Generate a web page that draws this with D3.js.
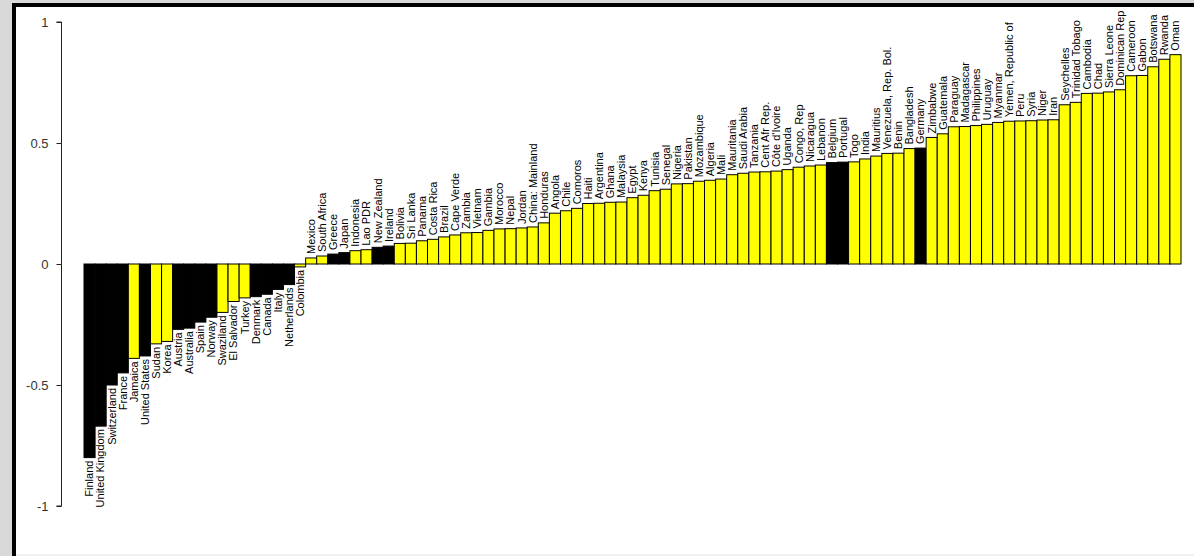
<!DOCTYPE html>
<html>
<head>
<meta charset="utf-8">
<script src="https://cdn.jsdelivr.net/npm/d3@7"></script>
<style>
  html, body { margin: 0; padding: 0; background: #d9d9d9; }
  svg { display: block; }
</style>
</head>
<body>
<div id="chart"></div>
<script>
// Countries, sorted by value (left to right)
const countries = [
  "Finland", "United Kingdom", "Switzerland", "France", "Jamaica", "United States",
  "Sudan", "Korea", "Austria", "Australia", "Spain", "Norway", "Swaziland",
  "El Salvador", "Turkey", "Denmark", "Canada", "Italy", "Netherlands", "Colombia",
  "Mexico", "South Africa", "Greece", "Japan", "Indonesia", "Lao PDR", "New Zealand",
  "Ireland", "Bolivia", "Sri Lanka", "Panama", "Costa Rica", "Brazil", "Cape Verde",
  "Zambia", "Vietnam", "Gambia", "Morocco", "Nepal", "Jordan", "China: Mainland",
  "Honduras", "Angola", "Chile", "Comoros", "Haiti", "Argentina", "Ghana", "Malaysia",
  "Egypt", "Kenya", "Tunisia", "Senegal", "Nigeria", "Pakistan", "Mozambique",
  "Algeria", "Mali", "Mauritania", "Saudi Arabia", "Tanzania", "Cent Afr Rep.",
  "Côte d'Ivoire", "Uganda", "Congo, Rep", "Nicaragua", "Lebanon", "Belgium",
  "Portugal", "Togo", "India", "Mauritius", "Venezuela, Rep. Bol.", "Benin",
  "Bangladesh", "Germany", "Zimbabwe", "Guatemala", "Paraguay", "Madagascar",
  "Philippines", "Uruguay", "Myanmar", "Yemen, Republic of", "Peru", "Syria", "Niger",
  "Iran", "Seychelles", "Trinidad Tobago", "Cambodia", "Chad", "Sierra Leone",
  "Dominican Rep", "Cameroon", "Gabon", "Botswana", "Rwanda", "Oman"
];

const values = [
  -0.80, -0.67, -0.50, -0.45, -0.39, -0.38,
  -0.33, -0.32, -0.27, -0.265, -0.24, -0.22, -0.20,
  -0.155, -0.14, -0.135, -0.125, -0.105, -0.085, -0.012,
  0.025, 0.033, 0.041, 0.047, 0.055, 0.059, 0.069,
  0.074, 0.085, 0.086, 0.096, 0.102, 0.112, 0.120,
  0.129, 0.130, 0.139, 0.145, 0.146, 0.149, 0.153,
  0.170, 0.210, 0.220, 0.230, 0.250, 0.251, 0.255, 0.256,
  0.274, 0.284, 0.303, 0.309, 0.331, 0.332, 0.342,
  0.346, 0.351, 0.369, 0.375, 0.380, 0.381,
  0.384, 0.390, 0.400, 0.405, 0.409, 0.419,
  0.421, 0.422, 0.434, 0.446, 0.457, 0.458,
  0.477, 0.479, 0.523, 0.538, 0.567, 0.568,
  0.572, 0.577, 0.585, 0.590, 0.591, 0.592, 0.595,
  0.596, 0.658, 0.668, 0.705, 0.706, 0.711,
  0.720, 0.778, 0.779, 0.815, 0.846, 0.865
];

// Industrial countries are drawn black, the rest yellow
const industrial = [
  "Finland", "United Kingdom", "Switzerland", "France", "United States", "Austria",
  "Australia", "Spain", "Norway", "Denmark", "Canada", "Italy", "Netherlands",
  "Greece", "Japan", "New Zealand", "Ireland", "Belgium", "Portugal", "Germany"
];

const yTicks = [-1, -0.5, 0, 0.5, 1];

const W = 1194, H = 556;

const data = countries.map((c, i) => ({
  country: c,
  value:   values[i],
  group:   industrial.includes(c) ? "industrial" : "developing"
}));

const svg = d3.select("#chart")
  .append("svg")
  .attr("width",  W)
  .attr("height", H);

// ── Window frame ───────────────────────────────────────────────────────
svg.append("rect")
  .attr("x", 0).attr("y", 0)
  .attr("width", W).attr("height", H)
  .attr("fill", "#d9d9d9");

svg.append("rect")
  .attr("x", 12).attr("y", 3)
  .attr("width", W - 12).attr("height", H - 3)
  .attr("fill", "#000");

svg.append("rect")
  .attr("x", 16).attr("y", 7)
  .attr("width", W - 16).attr("height", 547)
  .attr("fill", "#fff");

svg.append("rect")
  .attr("x", 16).attr("y", 554)
  .attr("width", W - 16).attr("height", 2)
  .attr("fill", "#f0f0f0");

// ── Scales ───────────────────────────────────────────────────────────────
const x = d3.scaleBand()
  .domain(countries)
  .range([84, 1181])
  .padding(0);

const y = d3.scaleLinear()
  .domain([-1, 1])
  .range([506, 22]);

const color = d3.scaleOrdinal()
  .domain(["industrial", "developing"])
  .range(["#000000", "#ffff00"]);

// ── Y axis ───────────────────────────────────────────────────────────────
const yAxis = svg.append("g")
  .attr("transform", "translate(61.5,0)")
  .call(d3.axisLeft(y).tickValues(yTicks).tickSize(5).tickPadding(8)
    .tickFormat(d => String(d)));

yAxis.select(".domain")
  .attr("stroke", "#222")
  .attr("d", `M-5,${y(1)}H0V${y(-1)}H-5`);
yAxis.selectAll(".tick line").attr("stroke", "#222");
yAxis.selectAll(".tick text")
  .attr("fill", "#333")
  .attr("font-family", "Liberation Sans, Arial, sans-serif")
  .attr("font-size", "13px");

// ── Bars ─────────────────────────────────────────────────────────────────
svg.append("g")
  .selectAll("rect")
  .data(data)
  .join("rect")
    .attr("x",      d => x(d.country))
    .attr("y",      d => y(Math.max(0, d.value)))
    .attr("width",  x.bandwidth())
    .attr("height", d => Math.abs(y(d.value) - y(0)))
    .attr("fill",   d => color(d.group))
    .attr("stroke", "#000")
    .attr("stroke-width", 1);

// ── Country labels (rotated, just past the bar end) ──────────────────────
svg.append("g")
  .selectAll("text")
  .data(data)
  .join("text")
    .attr("transform", d => {
      const cx = x(d.country) + x.bandwidth() / 2;
      const cy = d.value >= 0 ? y(d.value) - 4 : y(d.value) + 3;
      return `translate(${cx},${cy}) rotate(-90)`;
    })
    .attr("text-anchor", d => d.value >= 0 ? "start" : "end")
    .attr("dy", "0.35em")
    .attr("fill", "#000")
    .attr("font-family", "Liberation Sans, Arial, sans-serif")
    .attr("font-size", "11px")
    .text(d => d.country);
</script>
</body>
</html>
